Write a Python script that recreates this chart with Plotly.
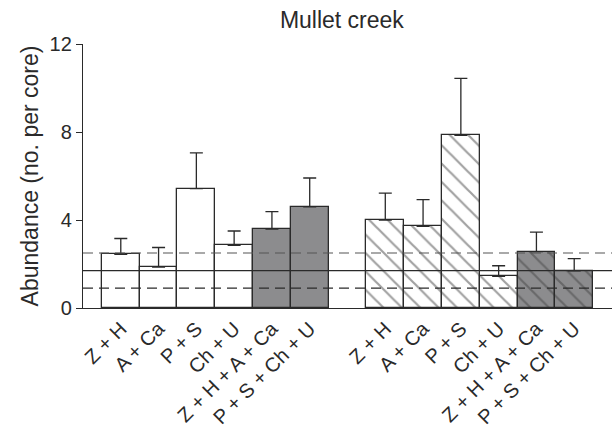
import plotly.graph_objects as go

labels = ["Z + H", "A + Ca", "P + S", "Ch + U", "Z + H + A + Ca", "P + S + Ch + U",
          "Z + H", "A + Ca", "P + S", "Ch + U", "Z + H + A + Ca", "P + S + Ch + U"]
positions = [0, 1, 2, 3, 4, 5, 7, 8, 9, 10, 11, 12]
means = [2.44, 1.86, 5.43, 2.85, 3.59, 4.60, 4.00, 3.71, 7.85, 1.44, 2.56, 1.69]
errors = [0.72, 0.89, 1.62, 0.65, 0.79, 1.31, 1.22, 1.22, 2.59, 0.48, 0.89, 0.55]
fills = ["white", "white", "white", "white", "#8c8c8e", "#8c8c8e",
         "white", "white", "white", "white", "#8c8c8e", "#8c8c8e"]
hatch = ["", "", "", "", "", "", "\\", "\\", "\\", "\\", "\\", "\\"]
ref_mean = 1.7
ref_low = 0.9
ref_high = 2.5

FONT = "Liberation Sans, Arial, sans-serif"
INK = "#2a2a2a"

fig = go.Figure()
fig.add_trace(go.Bar(
    x=positions, y=means, width=1.0,
    marker=dict(color=fills, line=dict(color=INK, width=1.3),
                pattern=dict(shape=hatch, fgcolor="#000000", bgcolor=fills,
                             size=13, solidity=0.17, fillmode="overlay")),
    error_y=dict(type="data", array=errors, arrayminus=[0] * len(errors),
                 symmetric=False, color=INK, thickness=1.3, width=6.5),
    showlegend=False,
))

for yv, dash, col in [(ref_high, "10px,6px", "#555555"), (ref_mean, "solid", INK), (ref_low, "10px,6px", INK)]:
    fig.add_shape(type="line", xref="paper", yref="y", x0=0, x1=1, y0=yv, y1=yv,
                  line=dict(color=col, width=1.2, dash=dash), layer="above")

fig.update_layout(
    width=616, height=438,
    margin=dict(l=83, r=4, t=44, b=130),
    paper_bgcolor="white", plot_bgcolor="white",
    font=dict(family=FONT, size=20, color=INK),
    title=dict(text="Mullet creek", x=0.555, xanchor="center", xref="container",
               y=0.955, yanchor="middle", font=dict(size=23)),
    bargap=0,
)
fig.update_xaxes(range=[-1, 13], tickvals=positions, ticktext=labels, tickangle=-45,
                 tickfont=dict(size=20),
                 showline=True, linecolor=INK, linewidth=1.3, ticks="",
                 showgrid=False, zeroline=False)
fig.update_yaxes(range=[0, 12], tickvals=[0, 4, 8, 12], ticks="outside", ticklen=6,
                 tickcolor=INK, showline=True, linecolor=INK, linewidth=1.3,
                 tickfont=dict(size=20),
                 showgrid=False, zeroline=False,
                 title=dict(text="Abundance (no. per core)", standoff=4, font=dict(size=23)))

fig.write_html("out.html")
